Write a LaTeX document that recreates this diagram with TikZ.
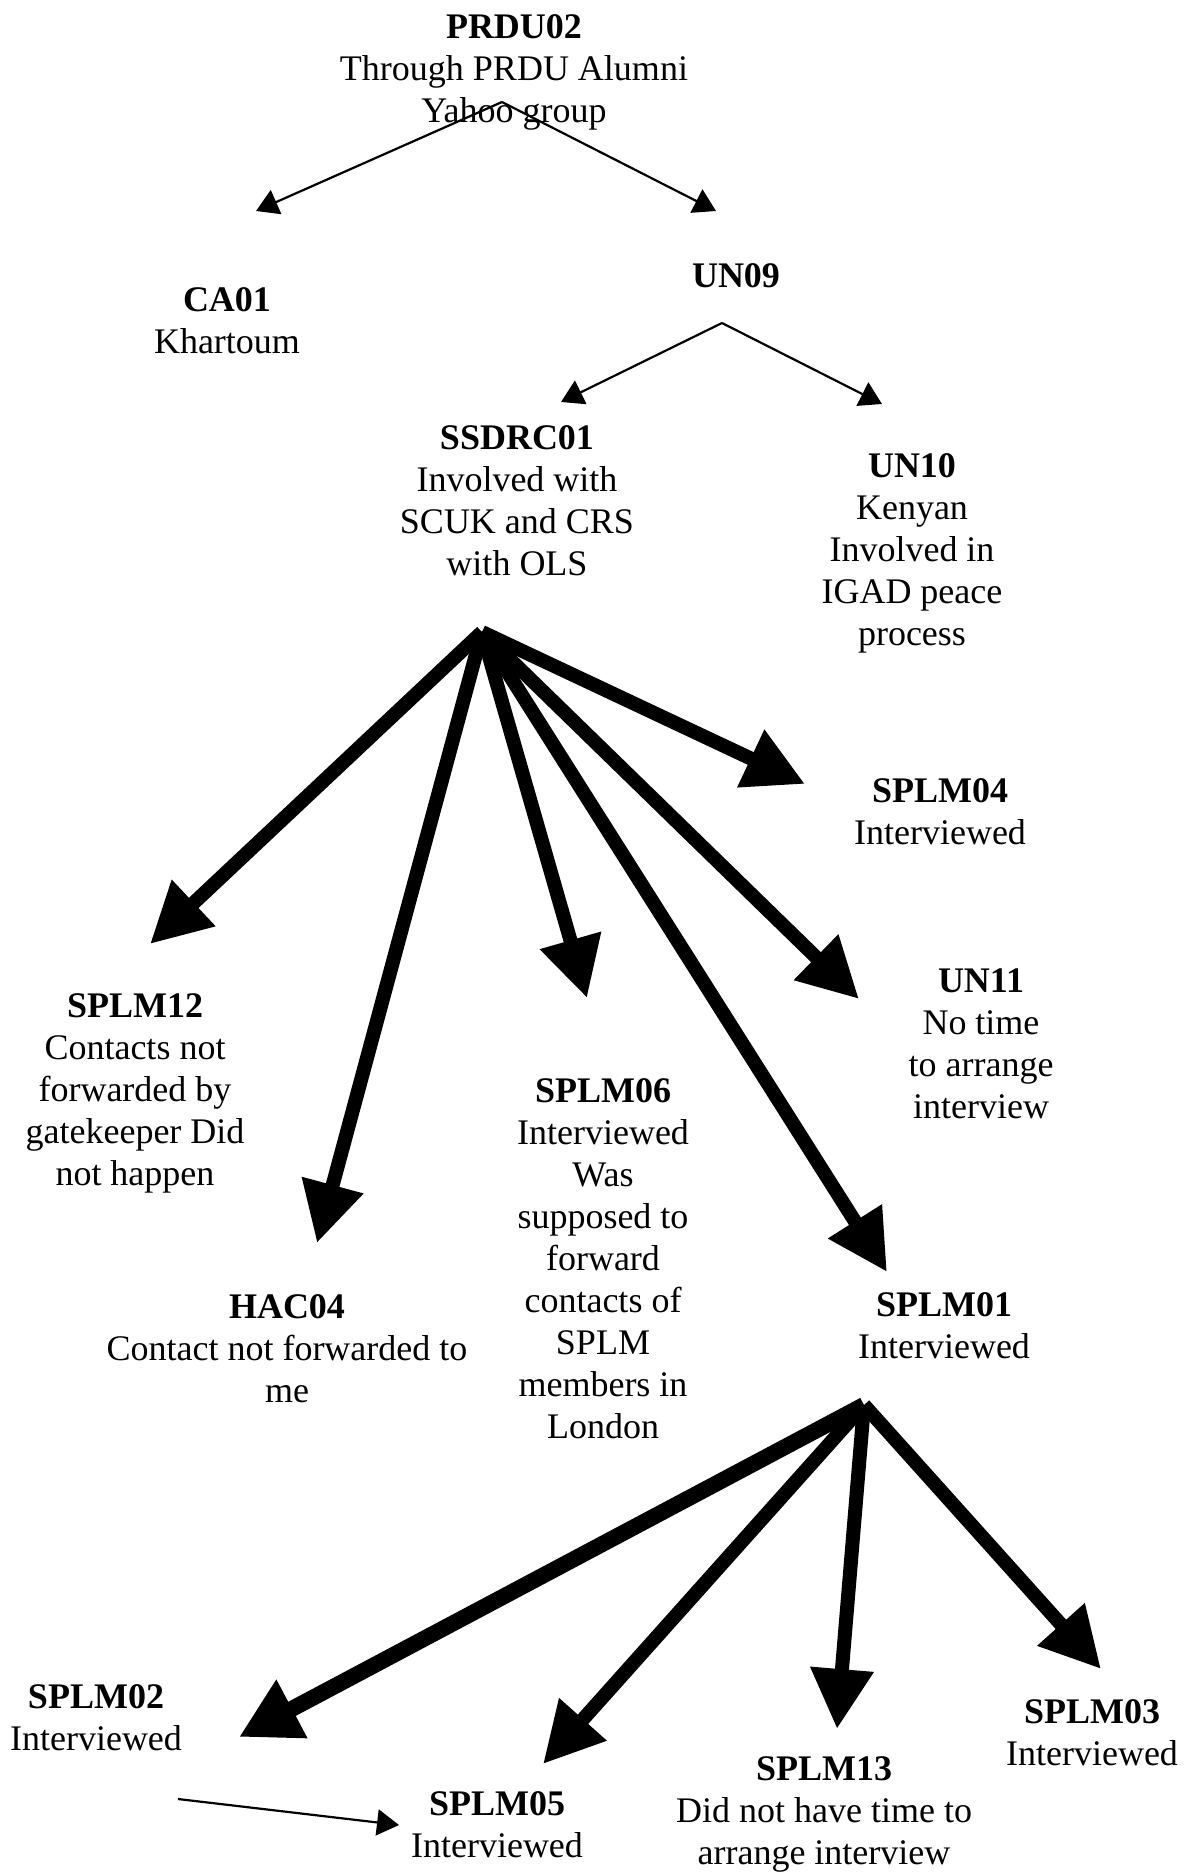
\documentclass[tikz,border=0pt]{standalone}
\usepackage{fontspec}
\setmainfont{Liberation Serif}
\usetikzlibrary{arrows.meta}
\begin{document}
\begin{tikzpicture}[x=0.5pt,y=-0.5pt,
  lbl/.style={anchor=north, align=center, inner sep=0pt,
              font=\fontsize{18pt}{21pt}\selectfont},
  thinarrow/.style={line width=1.1pt, -{Triangle[length=11pt,width=13pt]}},
  fatarrow/.style={line width=7pt, -{Triangle[length=30pt,width=30pt]}},
  heavyarrow/.style={line width=8pt, -{Triangle[length=30pt,width=31pt]}},
]
\useasboundingbox (0,0) rectangle (1188,1875);

% participants
\node[lbl] (prdu02) at (514,14) {\textbf{PRDU02}\\Through PRDU Alumni\\Yahoo group};
\node[lbl] (ca01) at (227,287) {\textbf{CA01}\\Khartoum};
\node[lbl] (un09) at (736,263) {\textbf{UN09}};
\node[lbl] (ssdrc01) at (517,425) {\textbf{SSDRC01}\\Involved with\\SCUK and CRS\\with OLS};
\node[lbl] (un10) at (912,453) {\textbf{UN10}\\Kenyan\\Involved in\\IGAD peace\\process};
\node[lbl] (splm04) at (940,778) {\textbf{SPLM04}\\Interviewed};
\node[lbl] (splm12) at (135,993) {\textbf{SPLM12}\\Contacts not\\forwarded by\\gatekeeper Did\\not happen};
\node[lbl] (un11) at (981,968) {\textbf{UN11}\\No time\\to arrange\\interview};
\node[lbl] (splm06) at (603,1078) {\textbf{SPLM06}\\Interviewed\\Was\\supposed to\\forward\\contacts of\\SPLM\\members in\\London};
\node[lbl] (hac04) at (287,1294) {\textbf{HAC04}\\Contact not forwarded to\\me};
\node[lbl] (splm01) at (944,1292) {\textbf{SPLM01}\\Interviewed};
\node[lbl] (splm02) at (96,1684) {\textbf{SPLM02}\\Interviewed};
\node[lbl] (splm05) at (497,1791) {\textbf{SPLM05}\\Interviewed};
\node[lbl] (splm13) at (824,1756) {\textbf{SPLM13}\\Did not have time to\\arrange interview};
\node[lbl] (splm03) at (1092,1699) {\textbf{SPLM03}\\Interviewed};

% branching points and arrow tips
\coordinate (hubP) at (502,102);
\coordinate (toCA) at (256,211);
\coordinate (toUN09) at (716,211);
\coordinate (hubU) at (722,323);
\coordinate (toSS) at (561,402);
\coordinate (toUN10) at (882,404);
\coordinate (hubS) at (482,632);
\coordinate (to12) at (150,944);
\coordinate (toHAC) at (317,1243);
\coordinate (to06) at (587,998);
\coordinate (to01) at (887,1272);
\coordinate (to11) at (859,999);
\coordinate (to04) at (805,784);
\coordinate (hub1) at (864,1405);
\coordinate (to02) at (239,1737);
\coordinate (to05) at (543,1764);
\coordinate (to13) at (837,1729);
\coordinate (to03) at (1101,1669);
\coordinate (from02) at (178,1799);
\coordinate (to05b) at (399,1825);

% referral links
\draw[thinarrow] (hubP) -- (toCA);
\draw[thinarrow] (hubP) -- (toUN09);
\draw[thinarrow] (hubU) -- (toSS);
\draw[thinarrow] (hubU) -- (toUN10);

\draw[fatarrow] (hubS) -- (to12);
\draw[fatarrow] (hubS) -- (toHAC);
\draw[fatarrow] (hubS) -- (to06);
\draw[fatarrow] (hubS) -- (to01);
\draw[fatarrow] (hubS) -- (to11);
\draw[fatarrow] (hubS) -- (to04);

\draw[heavyarrow] (hub1) -- (to02);
\draw[fatarrow] (hub1) -- (to05);
\draw[fatarrow] (hub1) -- (to13);
\draw[fatarrow] (hub1) -- (to03);

\draw[thinarrow] (from02) -- (to05b);
\end{tikzpicture}
\end{document}
